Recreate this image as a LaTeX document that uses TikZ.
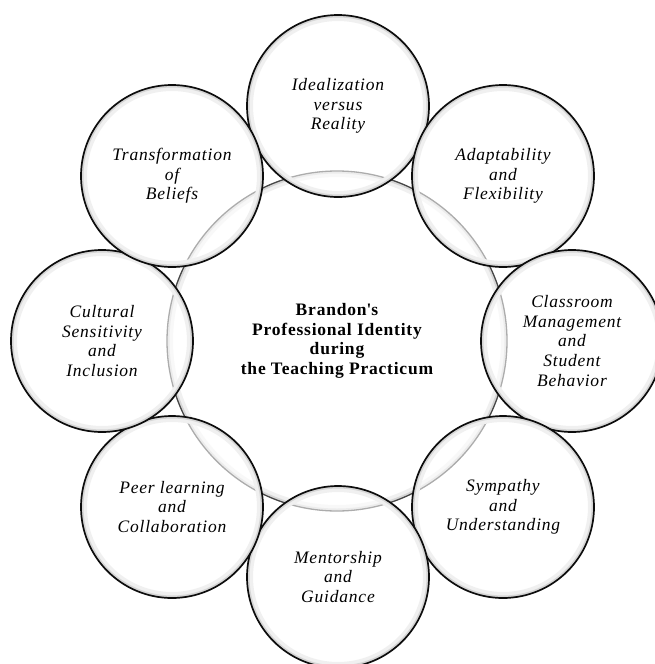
\documentclass[tikz,border=0pt]{standalone}
\usepackage{fontspec}
\setmainfont{Liberation Serif}[LetterSpace=4.5]
\begin{document}
\begin{tikzpicture}[x=1pt,y=-1pt,
  glow/.style={path picture={
      \draw[black!6, line width=6pt] (path picture bounding box.center) circle (#1);
      \draw[black!16, line width=2pt] (path picture bounding box.center) circle (#1+1.5pt);}},
  outer/.style={circle, draw=black!95, line width=1.7pt, minimum size=182pt, inner sep=0pt,
    fill=white, fill opacity=0.55, text opacity=1, align=center, glow=88pt,
    font=\fontsize{17.5}{19.6}\selectfont\itshape},
  hub/.style={circle, draw=black!72, line width=1.3pt, minimum size=340pt, inner sep=0pt,
    fill=white, align=center, glow=167pt,
    font=\fontsize{17.5}{19.6}\selectfont\bfseries}]
\useasboundingbox (0,0) rectangle (654,664);
\node[hub] (c) at (337,341) {Brandon\textquotesingle s\\Professional Identity\\during\\the Teaching Practicum};
\node[outer] (o1) at (338,106) {Idealization\\versus\\Reality};
\node[outer] (o2) at (503,176) {Adaptability\\and\\Flexibility};
\node[outer] (o3) at (572,341) {Classroom\\Management\\and\\Student\\Behavior};
\node[outer] (o4) at (503,507) {Sympathy\\and\\Understanding};
\node[outer] (o5) at (338,577) {Mentorship\\and\\Guidance};
\node[outer] (o6) at (172,507) {Peer learning\\and\\Collaboration};
\node[outer] (o7) at (102,341) {Cultural\\Sensitivity\\and\\Inclusion};
\node[outer] (o8) at (172,176) {Transformation\\of\\Beliefs};
\end{tikzpicture}
\end{document}
